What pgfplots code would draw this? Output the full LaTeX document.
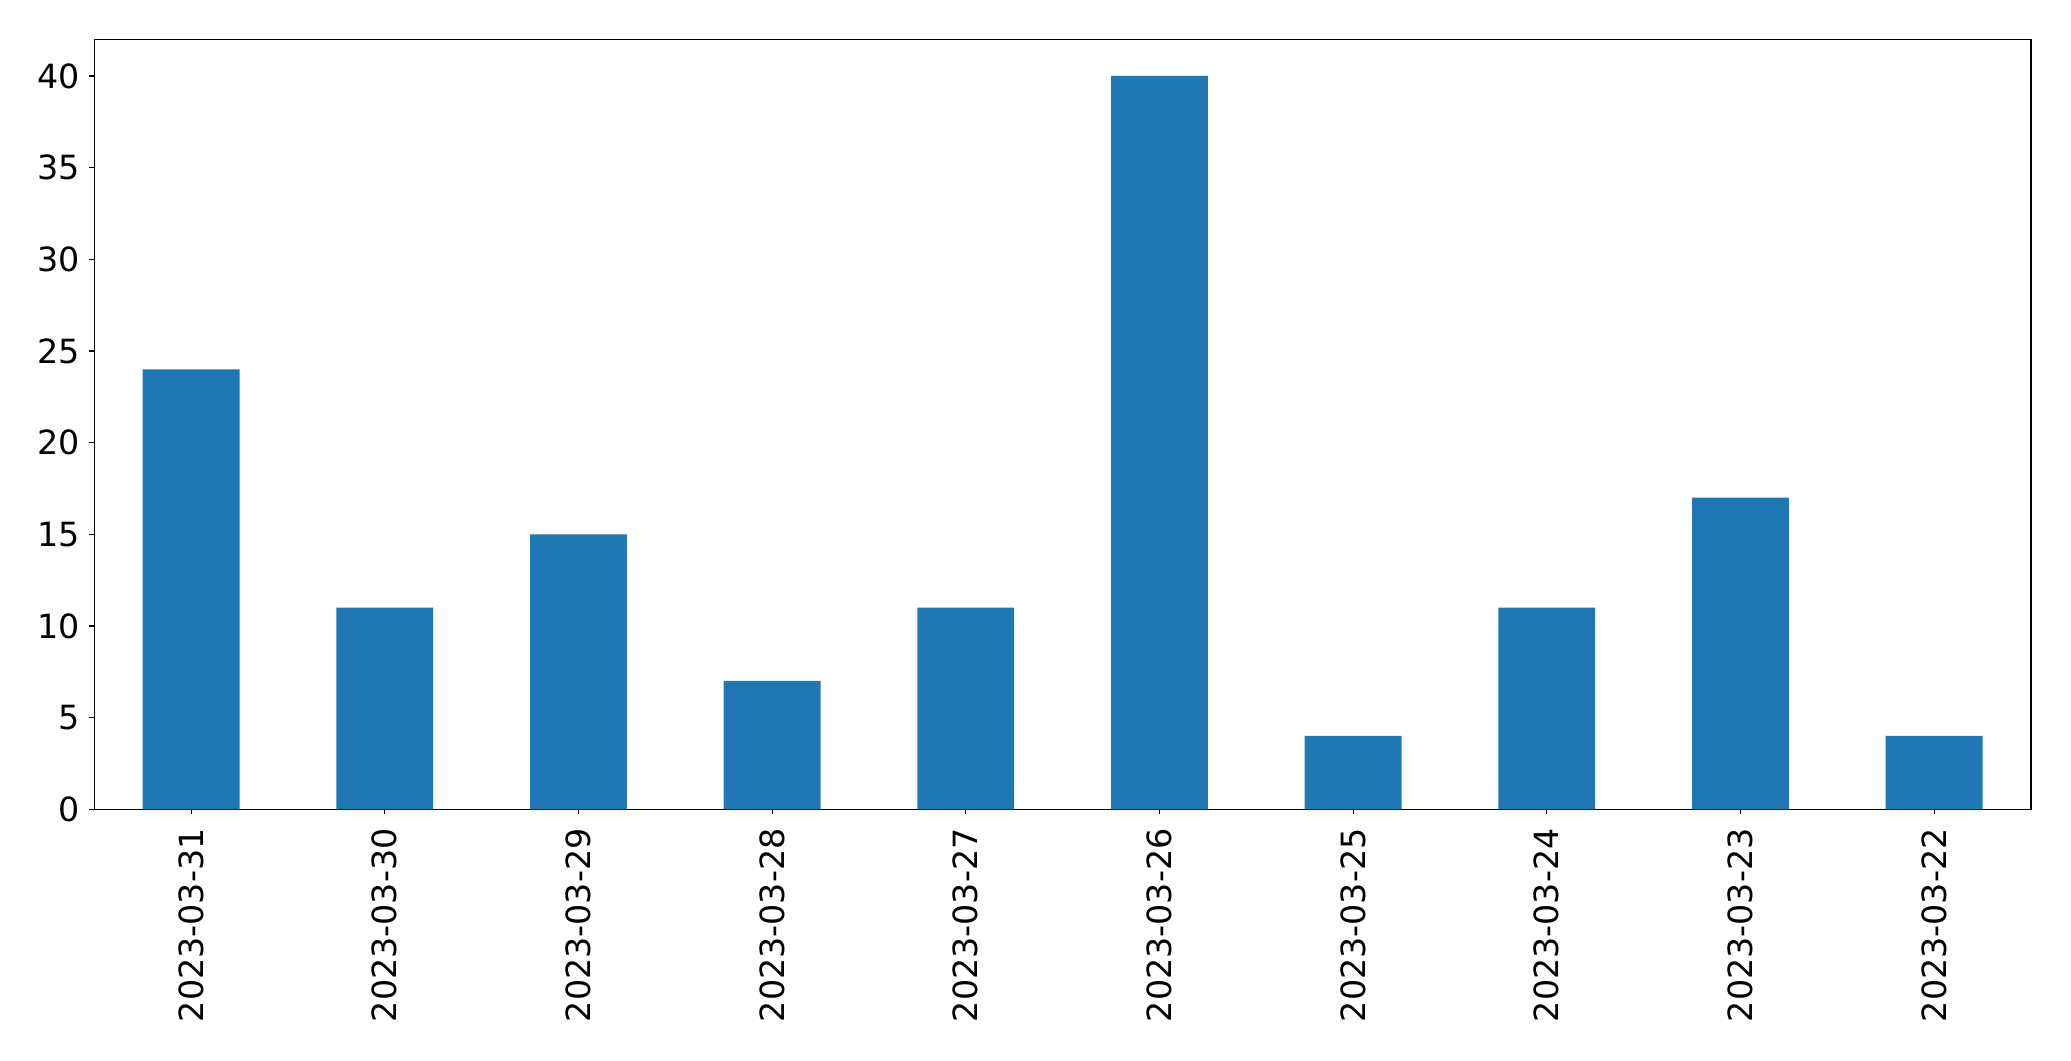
\documentclass[border=0pt]{standalone}
\usepackage{fontspec}
\setmainfont{DejaVu Sans}
\usepackage{pgfplots}
\pgfplotsset{compat=1.18}
\definecolor{tabblue}{HTML}{1F77B4}
\begin{document}
\begin{tikzpicture}
\useasboundingbox (0,0) rectangle (1491.1pt,763.9pt);
\begin{axis}[
  at={(67.9pt,181.2pt)}, anchor=south west,
  width=1394.4pt, height=554.4pt, scale only axis,
  xmin=-0.5, xmax=9.5, ymin=0, ymax=42,
  xtick={0,1,2,3,4,5,6,7,8,9},
  xticklabels={2023-03-31,2023-03-30,2023-03-29,2023-03-28,2023-03-27,2023-03-26,2023-03-25,2023-03-24,2023-03-23,2023-03-22},
  ytick={0,5,10,15,20,25,30,35,40},
  tick align=outside, major tick length=3.5pt,
  tick style={black, line width=0.8pt},
  axis line style={black, line width=0.8pt},
  xtick pos=bottom, ytick pos=left,
  /pgf/number format/assume math mode=true,
  tick label style={font=\fontsize{24}{28}\selectfont, inner sep=0pt},
  xticklabel style={rotate=90, anchor=east},
  xticklabel shift=10pt,
  yticklabel style={anchor=east},
  yticklabel shift=7pt,
]
\addplot[ybar, bar width=0.5, fill=tabblue, draw=none] coordinates {
(0,24) (1,11) (2,15) (3,7) (4,11) (5,40) (6,4) (7,11) (8,17) (9,4)
};
\end{axis}
\end{tikzpicture}
\end{document}
